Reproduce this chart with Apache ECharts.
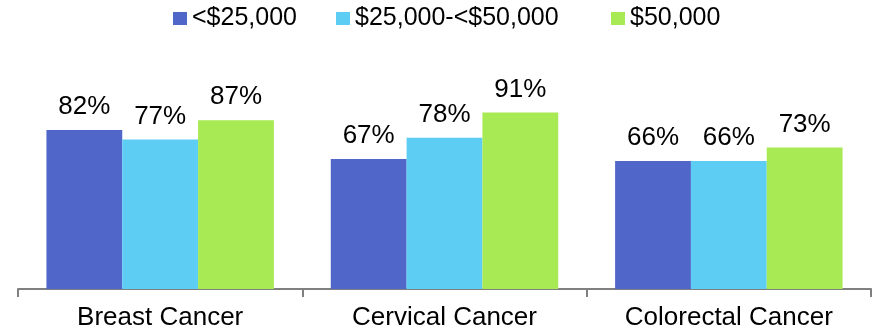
<!DOCTYPE html>
<html>
<head>
<meta charset="utf-8">
<script src="https://cdn.jsdelivr.net/npm/echarts@6/dist/echarts.min.js"></script>
<style>
  html, body { margin: 0; padding: 0; background: #fff; }
  #chart { width: 876px; height: 334px; }
</style>
</head>
<body>
<div id="chart"></div>
<script>
// 数据
var categories = ['Breast Cancer', 'Cervical Cancer', 'Colorectal Cancer']
var seriesNames = ['<$25,000', '$25,000-<$50,000', '$50,000']
var low = [82, 67, 66]
var mid = [77, 78, 66]
var high = [87, 91, 73]
var colors = ['#5066c9', '#5ecdf3', '#a8ea53']
var legendLeft = [173, 336, 611]

var chart = echarts.init(document.getElementById('chart'))

function makeSeries(name, data, color) {
  return {
    name: name,
    type: 'bar',
    data: data,
    itemStyle: { color: color },
    barGap: '0',
    barCategoryGap: '20%',
    label: {
      show: true,
      position: 'top',
      distance: 10,
      formatter: '{c}%',
      color: '#000',
      fontSize: 26,
      fontFamily: 'Liberation Sans, Arial, sans-serif'
    }
  }
}

// 图例分开放，间距跟原图一致
var legends = seriesNames.map(function (name, i) {
  return {
    left: legendLeft[i],
    top: 6,
    padding: 0,
    itemWidth: 14,
    itemHeight: 13,
    icon: 'rect',
    textStyle: {
      color: '#000',
      fontSize: 25,
      fontFamily: 'Liberation Sans, Arial, sans-serif'
    },
    data: [name]
  }
})

chart.setOption({
  animation: false,
  legend: legends,
  grid: {
    left: 18,
    right: 5,
    top: 95,
    bottom: 45
  },
  xAxis: {
    type: 'category',
    data: categories,
    axisLine: {
      lineStyle: { color: '#808080', width: 2 }
    },
    axisTick: {
      show: true,
      length: 8,
      lineStyle: { color: '#808080', width: 2 }
    },
    axisLabel: {
      color: '#000',
      fontSize: 26,
      margin: 16,
      fontFamily: 'Liberation Sans, Arial, sans-serif'
    }
  },
  yAxis: {
    type: 'value',
    min: 0,
    max: 100,
    show: false,
    splitLine: { show: false }
  },
  series: [
    makeSeries(seriesNames[0], low, colors[0]),
    makeSeries(seriesNames[1], mid, colors[1]),
    makeSeries(seriesNames[2], high, colors[2])
  ]
})
</script>
</body>
</html>
